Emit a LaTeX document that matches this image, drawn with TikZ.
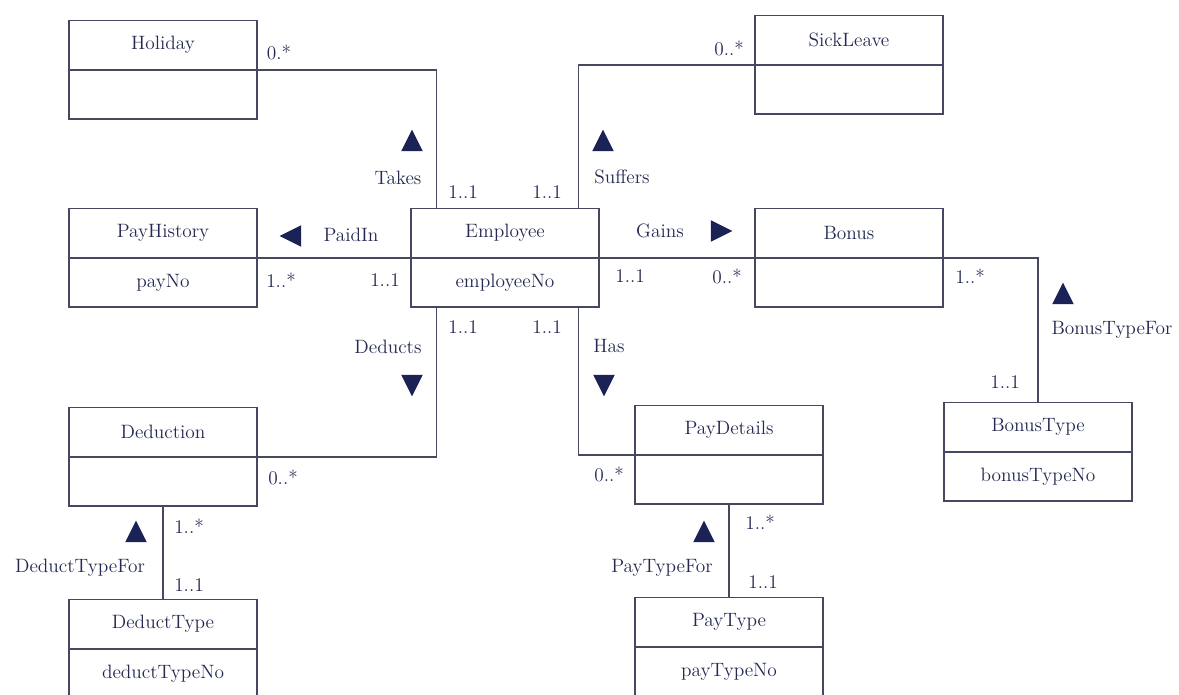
\documentclass[tikz,border=0pt]{standalone}
\usepackage{xcolor}
\definecolor{ink}{HTML}{232951}
\definecolor{rule}{HTML}{454860}
\definecolor{navy}{HTML}{1B2255}
\usepackage{tikz}
\usetikzlibrary{positioning,shapes.geometric}

\begin{document}
\begin{tikzpicture}[x=0.02cm,y=-0.02cm,
  cls/.style={draw=rule,line width=0.7pt,minimum width=3.76cm,minimum height=0.97cm,inner sep=0pt,
              text=ink,font=\fontsize{11}{13}\selectfont},
  assoc/.style={draw=rule,line width=0.75pt},
  tri/.style={regular polygon,regular polygon sides=3,fill=navy,minimum size=0.5cm,inner sep=0pt},
  lbl/.style={text=ink,font=\fontsize{11}{13}\selectfont,inner sep=1pt}]
\useasboundingbox (0,0) rectangle (1179,694);
% classes: name part, attribute part below
\node[cls] (hol) at (163,45) {Holiday};
\node[cls,below=0pt of hol] (holA) {};
\node[cls] (sick) at (849,40) {SickLeave};
\node[cls,below=0pt of sick] (sickA) {};
\node[cls] (phist) at (163,233) {PayHistory};
\node[cls,below=0pt of phist] (phistA) {payNo};
\node[cls] (emp) at (505,233) {Employee};
\node[cls,below=0pt of emp] (empA) {employeeNo};
\node[cls] (bon) at (849,233) {Bonus};
\node[cls,below=0pt of bon] (bonA) {};
\node[cls] (ded) at (163,432) {Deduction};
\node[cls,below=0pt of ded] (dedA) {};
\node[cls] (pdet) at (729,430) {PayDetails};
\node[cls,below=0pt of pdet] (pdetA) {};
\node[cls] (btyp) at (1038,427) {BonusType};
\node[cls,below=0pt of btyp] (btypA) {bonusTypeNo};
\node[cls] (dtyp) at (163,624) {DeductType};
\node[cls,below=0pt of dtyp] (dtypA) {deductTypeNo};
\node[cls] (ptyp) at (729,622) {PayType};
\node[cls,below=0pt of ptyp] (ptypA) {payTypeNo};
% ends on Employee
\coordinate (empTL) at ([xshift=0.52cm]emp.north west);
\coordinate (empTR) at ([xshift=-0.42cm]emp.north east);
\coordinate (empBL) at ([xshift=0.52cm]empA.south west);
\coordinate (empBR) at ([xshift=-0.42cm]empA.south east);
% associations
\draw[assoc] (hol.south east) -| (empTL);
\draw[assoc] (sick.south west) -| (empTR);
\draw[assoc] (phist.south east) -- (emp.south west);
\draw[assoc] (emp.south east) -- (bon.south west);
\draw[assoc] (bon.south east) -| (btyp.north);
\draw[assoc] (ded.south east) -| (empBL);
\draw[assoc] (pdet.south west) -| (empBR);
\draw[assoc] (dedA.south) -- (dtyp.north);
\draw[assoc] (pdetA.south) -- (ptyp.north);
% role names and their arrows
\node[tri,yscale=1.15] (tTakes) at (412,144) {};
\node[lbl] (takes) at (398,178) {Takes};
\node[tri,yscale=1.15] (tSuff) at (603,144) {};
\node[lbl] (suff) at (622,177) {Suffers};
\node[tri,rotate=90,yscale=1.15] (tPaid) at (294,236) {};
\node[lbl] (paid) at (351,235) {PaidIn};
\node[tri,rotate=-90,yscale=1.15] (tGains) at (718,231) {};
\node[lbl] (gains) at (660,231) {Gains};
\node[tri,yscale=1.15] (tBtf) at (1063,297) {};
\node[lbl] (btf) at (1112,330) {BonusTypeFor};
\node[tri,rotate=180,yscale=1.15] (tDed) at (412,382) {};
\node[lbl] (deducts) at (388,347) {Deducts};
\node[tri,rotate=180,yscale=1.15] (tHas) at (604,382) {};
\node[lbl] (has) at (609,346) {Has};
\node[tri,yscale=1.15] (tDtf) at (136,535) {};
\node[lbl] (dtf) at (80,568) {DeductTypeFor};
\node[tri,yscale=1.15] (tPtf) at (704,535) {};
\node[lbl] (ptf) at (662,568) {PayTypeFor};
% multiplicities
\node[lbl] (m1) at (279,52) {0.*};
\node[lbl] (m2) at (729,48) {0..*};
\node[lbl] (m3) at (463,192) {1..1};
\node[lbl] (m4) at (547,192) {1..1};
\node[lbl] (m5) at (281,280) {1..*};
\node[lbl] (m6) at (385,280) {1..1};
\node[lbl] (m7) at (630,276) {1..1};
\node[lbl] (m8) at (727,276) {0..*};
\node[lbl] (m9) at (970,276) {1..*};
\node[lbl] (m10) at (463,327) {1..1};
\node[lbl] (m11) at (547,327) {1..1};
\node[lbl] (m12) at (283,477) {0..*};
\node[lbl] (m13) at (609,474) {0..*};
\node[lbl] (m14) at (189,526) {1..*};
\node[lbl] (m15) at (189,585) {1..1};
\node[lbl] (m16) at (760,522) {1..*};
\node[lbl] (m17) at (763,582) {1..1};
\node[lbl] (m18) at (1005,382) {1..1};
\end{tikzpicture}
\end{document}
